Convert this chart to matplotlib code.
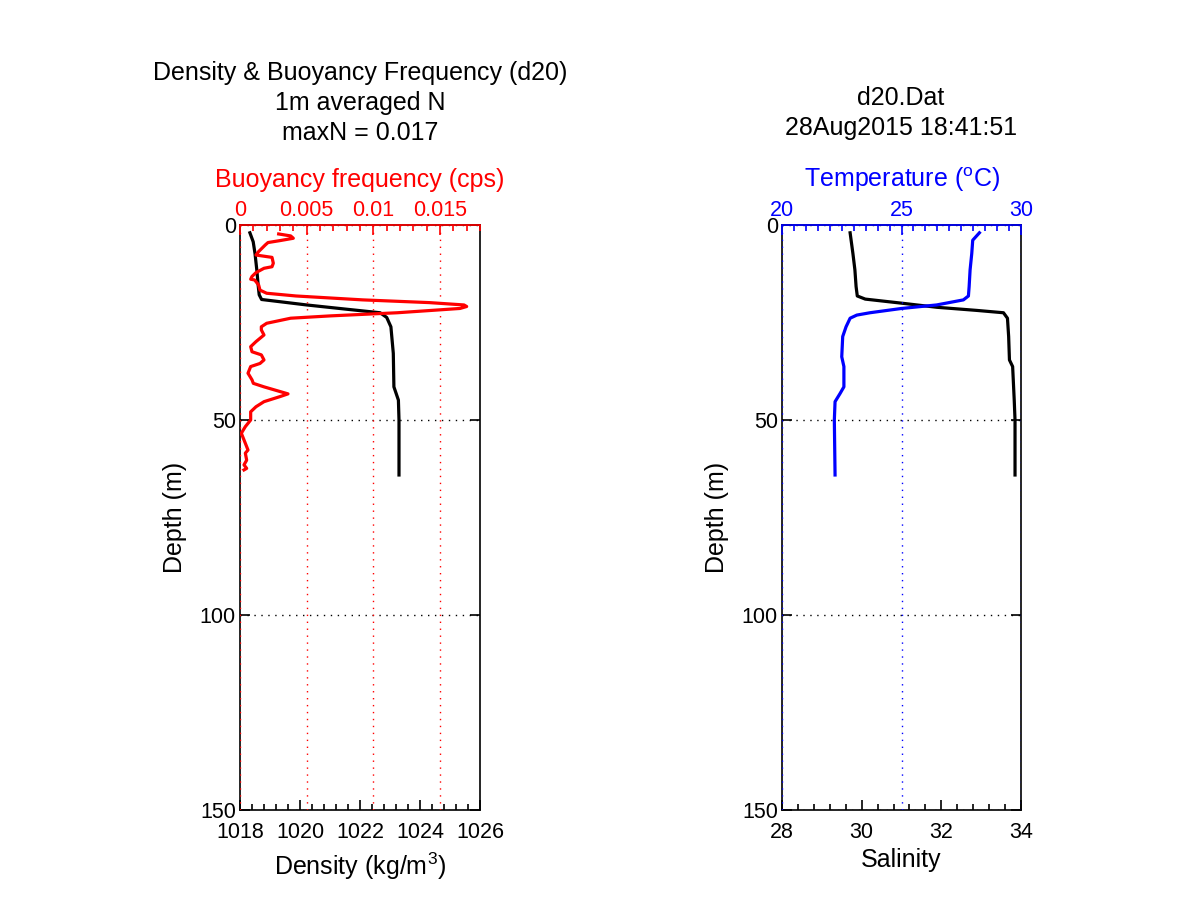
import matplotlib
matplotlib.use("Agg")
import matplotlib.pyplot as plt
from matplotlib.ticker import MultipleLocator

plt.rcParams['font.family'] = ['Liberation Sans', 'DejaVu Sans']
plt.rcParams['mathtext.fontset'] = 'custom'
plt.rcParams['mathtext.rm'] = 'Liberation Sans'
fs = 15.5      # tick labels
fl = 18        # labels and titles

# density profile (kg/m3) vs depth (m)
dens_depth = [2.0, 4.3, 7.3, 11.5, 15.8, 17.9, 19.1, 20.5, 21.6, 22.5, 23.7, 26.1, 32.9, 41.5, 44.9, 50.0, 64.1]
density = [1018.33, 1018.44, 1018.5, 1018.56, 1018.61, 1018.64, 1018.72, 1020.22, 1021.56, 1022.67,
           1022.89, 1023.03, 1023.11, 1023.13, 1023.28, 1023.3, 1023.3]

# buoyancy frequency (cps), 1m averaged
n_depth = [2.3, 2.8, 3.4, 4.0, 4.5, 5.1, 6.8, 7.7, 8.3, 9.8, 10.7, 11.1, 12.2, 13.2, 13.9, 14.1, 15.4, 16.7,
           17.5, 18.2, 19.2, 19.9, 20.5, 20.9, 21.4, 22.5, 23.3, 23.9, 25.2, 26.1, 26.9, 28.2, 29.9, 31.2,
           32.5, 33.3, 34.6, 35.5, 36.3, 38.0, 39.7, 40.6, 41.5, 42.7, 43.3, 44.0, 45.3, 46.6, 47.9, 50.0,
           51.7, 53.4, 55.1, 57.7, 58.5, 60.3, 61.5, 62.4, 62.8]
buoy = [0.0029, 0.0038, 0.0040, 0.0030, 0.0021, 0.0019, 0.0014, 0.0012, 0.0024, 0.0025, 0.0024, 0.0018,
        0.0012, 0.0009, 0.0008, 0.0011, 0.0014, 0.0015, 0.0020, 0.0042, 0.0092, 0.0142, 0.0168, 0.0170,
        0.0165, 0.0118, 0.0068, 0.0038, 0.0020, 0.0016, 0.0016, 0.0018, 0.0012, 0.0008, 0.0009, 0.0016,
        0.0018, 0.0015, 0.0008, 0.0006, 0.0009, 0.0010, 0.0018, 0.0030, 0.0036, 0.0030, 0.0018, 0.0012,
        0.0008, 0.0008, 0.0004, 0.0001, 0.0003, 0.0006, 0.0004, 0.0005, 0.0003, 0.0005, 0.0003]

# temperature (C) and salinity profiles
temp_depth = [2.0, 3.9, 7.3, 11.5, 15.8, 18.2, 19.2, 20.5, 21.4, 22.5, 23.1, 23.9, 26.1, 28.6, 33.8, 36.3,
              41.5, 43.2, 45.3, 50.0, 64.1]
temperature = [28.26, 27.98, 27.94, 27.87, 27.83, 27.8, 27.59, 26.47, 25.0, 23.68, 23.13, 22.85, 22.68,
               22.54, 22.5, 22.59, 22.59, 22.43, 22.22, 22.19, 22.22]
sal_depth = [2.0, 7.3, 11.5, 15.8, 18.2, 19.0, 20.1, 21.1, 21.9, 22.5, 23.9, 28.6, 34.6, 36.3, 44.9, 50.0, 64.1]
salinity = [29.71, 29.78, 29.83, 29.86, 29.89, 30.09, 31.05, 31.89, 32.89, 33.56, 33.66, 33.69, 33.71,
            33.79, 33.83, 33.85, 33.85]

W, H = 1201, 901
fig = plt.figure(figsize=(W / 100, H / 100), dpi=100)


def px(x0, y0, x1, y1):
    return [x0 / W, 1 - y1 / H, (x1 - x0) / W, (y1 - y0) / H]


def style_main(ax, xlim, major, minor):
    ax.set_xlim(xlim)
    ax.set_ylim(150, 0)
    ax.xaxis.set_major_locator(MultipleLocator(major))
    ax.xaxis.set_minor_locator(MultipleLocator(minor))
    ax.yaxis.set_major_locator(MultipleLocator(50))
    ax.tick_params(which='both', direction='in', labelsize=fs, top=False, right=True, width=1.2)
    ax.tick_params(which='major', length=7)
    ax.tick_params(which='minor', length=4)
    ax.tick_params(axis='x', pad=9)
    ax.tick_params(axis='y', pad=3)
    ax.tick_params(axis='y', which='minor', left=False, right=False)
    for s in ax.spines.values():
        s.set_linewidth(1.2)
    ax.grid(axis='y', color='k', linestyle=(0, (1, 4)), linewidth=1)
    ax.set_ylabel('Depth (m)', fontsize=fl, labelpad=9)


def style_top(ax2, color, xlim, major, minor):
    ax2.set_xlim(xlim)
    ax2.xaxis.set_major_locator(MultipleLocator(major))
    ax2.xaxis.set_minor_locator(MultipleLocator(minor))
    ax2.tick_params(which='both', direction='in', labelsize=fs, colors=color, width=1.2, pad=3)
    ax2.tick_params(which='major', length=7)
    ax2.tick_params(which='minor', length=4)
    ax2.spines['top'].set_color(color)
    ax2.spines['top'].set_linewidth(1.2)
    for k in ['left', 'right', 'bottom']:
        ax2.spines[k].set_visible(False)
    ax2.grid(axis='x', color=color, linestyle=(0, (1, 4)), linewidth=1)


# left panel: density & buoyancy frequency
ax = fig.add_axes(px(240, 225, 480, 810))
ax.plot(density, dens_depth, color='k', linewidth=2.3)
style_main(ax, (1018, 1026), 2, 0.4)
ax.set_xlabel('Density (kg/m$^3$)', fontsize=fl, labelpad=5)

ax2 = ax.twiny()
ax2.plot(buoy, n_depth, color='r', linewidth=2.3)
style_top(ax2, 'r', (0, 0.018), 0.005, 0.001)
ax2.set_xticks([0, 0.005, 0.01, 0.015])
ax2.set_xticklabels(['0', '0.005', '0.01', '0.015'])
ax2.set_ylim(150, 0)
ax2.set_xlabel('Buoyancy frequency (cps)', fontsize=fl, color='r', labelpad=9)

fig.text(360 / W, 1 - 73 / H, 'Density & Buoyancy Frequency (d20)', ha='center', va='center', fontsize=fl)
fig.text(360 / W, 1 - 103 / H, '1m averaged N', ha='center', va='center', fontsize=fl)
fig.text(360 / W, 1 - 133 / H, 'maxN = 0.017', ha='center', va='center', fontsize=fl)

# right panel: temperature & salinity
bx = fig.add_axes(px(782, 225, 1021, 810))
bx.plot(salinity, sal_depth, color='k', linewidth=2.3)
style_main(bx, (28, 34), 2, 0.4)
bx.set_xlabel('Salinity', fontsize=fl, labelpad=3)

bx2 = bx.twiny()
bx2.plot(temperature, temp_depth, color='b', linewidth=2.3)
style_top(bx2, 'b', (20, 30), 5, 0.5)
bx2.set_ylim(150, 0)
bx2.set_xlabel('Temperature ($^{\\rm o}$C)', fontsize=fl, color='b', labelpad=9)

fig.text(901 / W, 1 - 98 / H, 'd20.Dat', ha='center', va='center', fontsize=fl)
fig.text(901 / W, 1 - 128 / H, '28Aug2015 18:41:51', ha='center', va='center', fontsize=fl)

fig.savefig('out.png', dpi=100)
